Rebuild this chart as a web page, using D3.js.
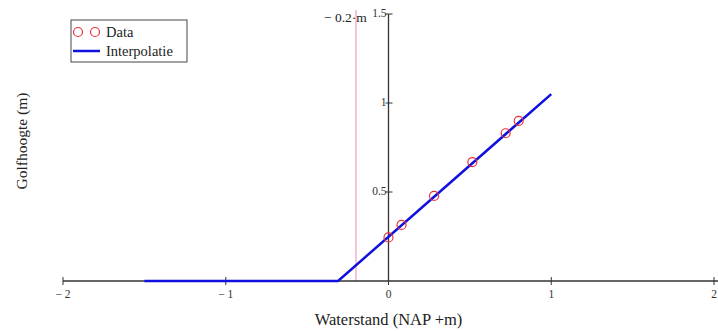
<!DOCTYPE html>
<html>
<head>
<meta charset="utf-8">
<script src="https://cdn.jsdelivr.net/npm/d3@7"></script>
<style>
  body { margin: 0; background: #fff; }
  svg { display: block; font-family: "Liberation Serif", "DejaVu Serif", serif; }
</style>
</head>
<body>
<svg id="chart"></svg>
<script>
        // Measured water levels and wave heights
        const dataX = [0.0, 0.08, 0.28, 0.515, 0.72, 0.80];
        const dataY = [0.245, 0.315, 0.478, 0.668, 0.83, 0.90];

        // Interpolation line (flat below the threshold, then linear)
        const lineX = [-1.5, -0.31, 1.0];
        const lineY = [0, 0, 1.05];

        const xTicks = [-2, -1, 0, 1, 2];
        const xTickLabels = ['\u2212 2', '\u2212 1', '0', '1', '2'];
        const yTicks = [0.5, 1, 1.5];
        const yTickLabels = ['0.5', '1', '1.5'];
        const markerX = -0.2;

        const width = 718, height = 331;

        const svg = d3.select('#chart')
            .attr('width', width)
            .attr('height', height);

        // Scales
        const xScale = d3.scaleLinear().domain([-2, 2]).range([63, 714]);
        const yScale = d3.scaleLinear().domain([0, 1.5]).range([281, 14]);

        const axisColor = '#333';

        // Red marker line at -0.2 m
        svg.append('line')
            .attr('x1', xScale(markerX)).attr('x2', xScale(markerX))
            .attr('y1', 10).attr('y2', yScale(0))
            .attr('stroke', '#f0a0b0').attr('stroke-width', 1.2);

        svg.append('text')
            .attr('x', xScale(markerX) - 32).attr('y', 22)
            .attr('font-size', 13.5).attr('fill', '#222')
            .text('\u2212 0.2\u00b7m');

        // x axis
        svg.append('line')
            .attr('x1', xScale(-2)).attr('x2', width)
            .attr('y1', yScale(0)).attr('y2', yScale(0))
            .attr('stroke', axisColor).attr('stroke-width', 1.3);

        svg.selectAll('.xtick')
            .data(xTicks)
            .enter()
            .append('line')
            .attr('class', 'xtick')
            .attr('x1', d => xScale(d)).attr('x2', d => xScale(d))
            .attr('y1', yScale(0) - 4).attr('y2', yScale(0) + 4)
            .attr('stroke', axisColor).attr('stroke-width', 1);

        svg.selectAll('.xlabel')
            .data(xTicks)
            .enter()
            .append('text')
            .attr('class', 'xlabel')
            .attr('x', d => xScale(d))
            .attr('y', yScale(0) + 17)
            .attr('text-anchor', 'middle')
            .attr('font-size', 11.5).attr('fill', '#333')
            .text((d, i) => xTickLabels[i]);

        // y axis
        svg.append('line')
            .attr('x1', xScale(0)).attr('x2', xScale(0))
            .attr('y1', yScale(0)).attr('y2', yScale(1.5))
            .attr('stroke', axisColor).attr('stroke-width', 1.3);

        svg.selectAll('.ytick')
            .data(yTicks)
            .enter()
            .append('line')
            .attr('class', 'ytick')
            .attr('x1', xScale(0) - 3).attr('x2', xScale(0) + 4)
            .attr('y1', d => yScale(d)).attr('y2', d => yScale(d))
            .attr('stroke', axisColor).attr('stroke-width', 1);

        svg.selectAll('.ylabel')
            .data(yTicks)
            .enter()
            .append('text')
            .attr('class', 'ylabel')
            .attr('x', xScale(0) - 2)
            .attr('y', d => yScale(d) + 3)
            .attr('text-anchor', 'end')
            .attr('font-size', 11.5).attr('fill', '#333')
            .text((d, i) => yTickLabels[i]);

        // Interpolation line
        const line = d3.line()
            .x((d, i) => xScale(lineX[i]))
            .y((d, i) => yScale(lineY[i]));

        svg.append('path')
            .datum(lineX)
            .attr('d', line)
            .attr('fill', 'none')
            .attr('stroke', '#1010e0')
            .attr('stroke-width', 2.5);

        // Data points
        svg.selectAll('.pt')
            .data(dataX)
            .enter()
            .append('circle')
            .attr('class', 'pt')
            .attr('cx', d => xScale(d))
            .attr('cy', (d, i) => yScale(dataY[i]))
            .attr('r', 4.5)
            .attr('fill', 'none')
            .attr('stroke', '#e8303a')
            .attr('stroke-width', 1.2);

        // Axis titles
        svg.append('text')
            .attr('x', xScale(0)).attr('y', 325)
            .attr('text-anchor', 'middle')
            .attr('font-size', 16.5).attr('fill', '#222')
            .text('Waterstand (NAP +m)');

        svg.append('text')
            .attr('transform', 'translate(27,141) rotate(-90)')
            .attr('text-anchor', 'middle')
            .attr('font-size', 15.5).attr('fill', '#222')
            .text('Golfhoogte (m)');

        // Legend
        const legend = svg.append('g');
        legend.append('rect')
            .attr('x', 71).attr('y', 20).attr('width', 116).attr('height', 42)
            .attr('fill', '#fff').attr('stroke', '#444').attr('stroke-width', 1);
        [78, 95].forEach(cx => {
            legend.append('circle')
                .attr('cx', cx).attr('cy', 32).attr('r', 4.5)
                .attr('fill', 'none').attr('stroke', '#e8303a').attr('stroke-width', 1.2);
        });
        legend.append('text')
            .attr('x', 106).attr('y', 37)
            .attr('font-size', 14.5).attr('fill', '#222')
            .text('Data');
        legend.append('line')
            .attr('x1', 73).attr('x2', 100).attr('y1', 51).attr('y2', 51)
            .attr('stroke', '#1010e0').attr('stroke-width', 2.5);
        legend.append('text')
            .attr('x', 106).attr('y', 56)
            .attr('font-size', 14.5).attr('fill', '#222')
            .text('Interpolatie');
</script>
</body>
</html>
